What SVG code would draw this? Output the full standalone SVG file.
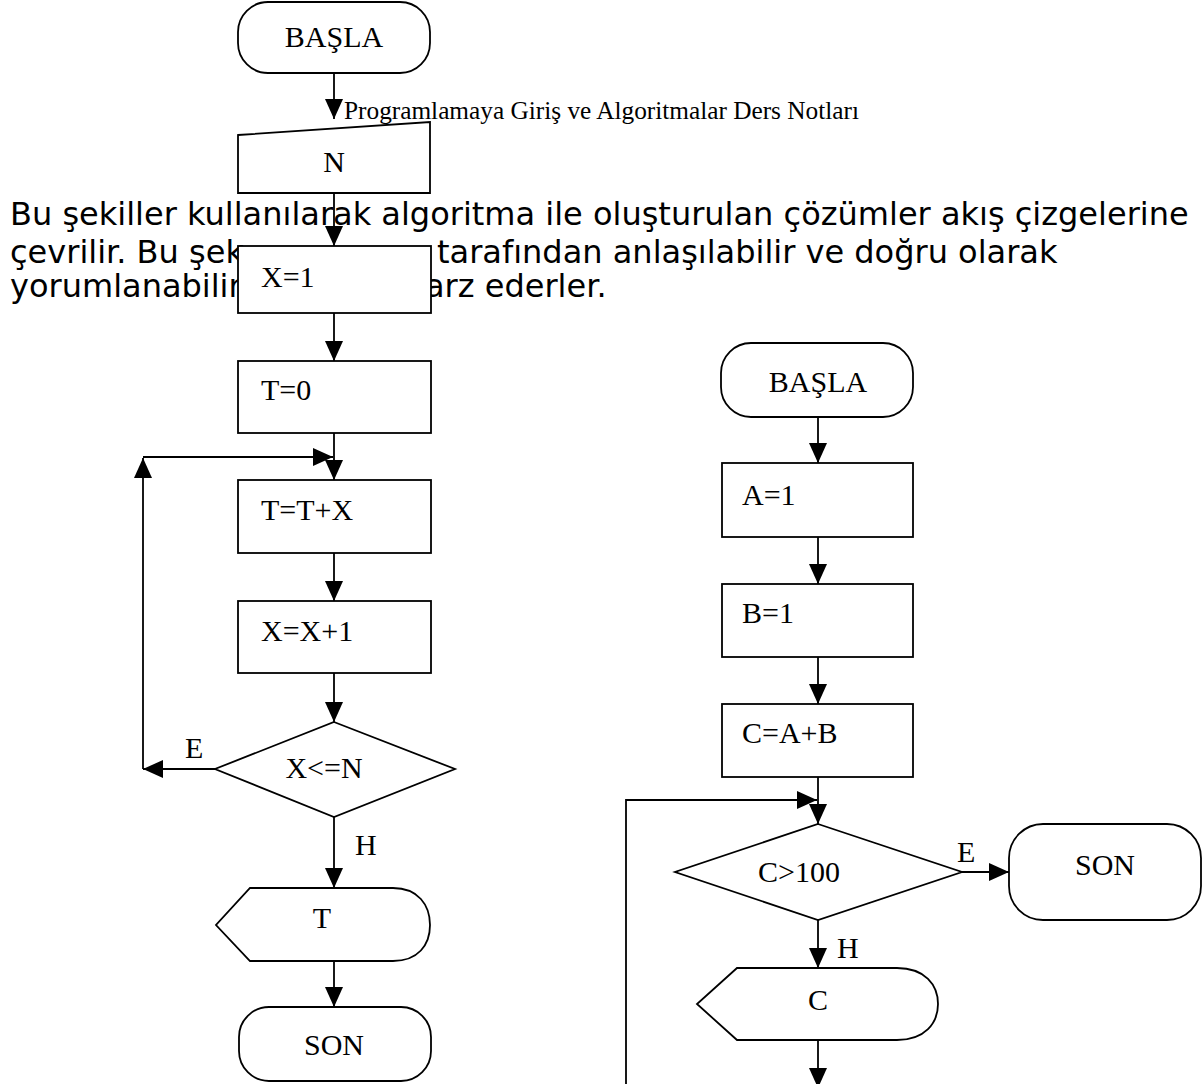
<svg xmlns="http://www.w3.org/2000/svg" width="1202" height="1084" viewBox="0 0 1202 1084">
<style>
.s{fill:#fff;stroke:#000;stroke-width:1.8}
.t{font-family:"Liberation Serif","Times New Roman",serif;font-size:30px;fill:#000}
.c{text-anchor:middle}
.b{font-family:"DejaVu Sans",Verdana,sans-serif;font-size:32px;fill:#000}
.h{font-family:"Liberation Serif","Times New Roman",serif;font-size:25.3px;fill:#000}
.ln{stroke:#000;stroke-width:1.8;fill:none}
</style>
<defs>
<marker id="ah" markerUnits="userSpaceOnUse" markerWidth="20" markerHeight="18" refX="20" refY="9" orient="auto">
<path d="M0,0 L20,9 L0,18 Z" fill="#000"/>
</marker>
</defs>
<g id="bodytext">
<text class="b" x="10" y="225">Bu şekiller kullanılarak algoritma ile oluşturulan çözümler akış çizgelerine</text>
<text class="b" x="10" y="263">çevrilir. Bu şek</text>
<text class="b" x="437" y="263">tarafından anlaşılabilir ve doğru olarak</text>
<text class="b" x="10" y="297">yorumlanabilir</text>
<text class="b" x="425" y="297">arz ederler.</text>
</g>
<text id="header" class="h" x="344" y="119">Programlamaya Giriş ve Algoritmalar Ders Notları</text>
<g id="connectors">
<line class="ln" x1="334" y1="72" x2="334" y2="119" marker-end="url(#ah)"/>
<line class="ln" x1="334" y1="193" x2="334" y2="246" marker-end="url(#ah)"/>
<line class="ln" x1="334" y1="313" x2="334" y2="361" marker-end="url(#ah)"/>
<line class="ln" x1="334" y1="433" x2="334" y2="480" marker-end="url(#ah)"/>
<line class="ln" x1="334" y1="553" x2="334" y2="601" marker-end="url(#ah)"/>
<line class="ln" x1="334" y1="673" x2="334" y2="722" marker-end="url(#ah)"/>
<line class="ln" x1="215" y1="769" x2="143" y2="769" marker-end="url(#ah)"/>
<line class="ln" x1="143" y1="769" x2="143" y2="458" marker-end="url(#ah)"/>
<line class="ln" x1="143" y1="457" x2="333" y2="457" marker-end="url(#ah)"/>
<line class="ln" x1="334" y1="817" x2="334" y2="888" marker-end="url(#ah)"/>
<line class="ln" x1="334" y1="961" x2="334" y2="1007" marker-end="url(#ah)"/>
<line class="ln" x1="818" y1="417" x2="818" y2="463" marker-end="url(#ah)"/>
<line class="ln" x1="818" y1="537" x2="818" y2="584" marker-end="url(#ah)"/>
<line class="ln" x1="818" y1="657" x2="818" y2="704" marker-end="url(#ah)"/>
<line class="ln" x1="818" y1="777" x2="818" y2="824" marker-end="url(#ah)"/>
<polyline class="ln" points="626,1084 626,800 817,800" marker-end="url(#ah)"/>
<line class="ln" x1="962" y1="872" x2="1009" y2="872" marker-end="url(#ah)"/>
<line class="ln" x1="818" y1="920" x2="818" y2="968" marker-end="url(#ah)"/>
<line class="ln" x1="818" y1="1040" x2="818" y2="1088" marker-end="url(#ah)"/>
<text class="t" x="185" y="758">E</text>
<text class="t" x="355" y="855">H</text>
<text class="t" x="957" y="862">E</text>
<text class="t" x="837" y="958">H</text>
</g>
<g id="n-basla1"><rect class="s" x="238" y="2" width="192" height="71" rx="30" ry="30"/><text class="t c" x="334" y="47">BAŞLA</text></g>
<g id="n-N"><polygon class="s" points="238,135 430,122 430,193 238,193"/><text class="t c" x="334" y="172">N</text></g>
<g id="n-x1"><rect class="s" x="238" y="246" width="193" height="67"/><text class="t" x="261" y="287">X=1</text></g>
<g id="n-t0"><rect class="s" x="238" y="361" width="193" height="72"/><text class="t" x="261" y="400">T=0</text></g>
<g id="n-ttx"><rect class="s" x="238" y="480" width="193" height="73"/><text class="t" x="261" y="520">T=T+X</text></g>
<g id="n-xx1"><rect class="s" x="238" y="601" width="193" height="72"/><text class="t" x="261" y="641">X=X+1</text></g>
<g id="n-d1"><polygon class="s" points="334,722 455,769 334,817 215,769"/><text class="t c" x="324" y="778">X&lt;=N</text></g>
<g id="n-outT"><path class="s" d="M250,888 H393 C418,888 430,905 430,925 C430,945 418,961 393,961 H250 L216,925 Z"/><text class="t c" x="322" y="928">T</text></g>
<g id="n-son1"><rect class="s" x="239" y="1007" width="192" height="74" rx="30" ry="30"/><text class="t c" x="334" y="1055">SON</text></g>
<g id="n-basla2"><rect class="s" x="721" y="343" width="192" height="74" rx="30" ry="30"/><text class="t c" x="818" y="392">BAŞLA</text></g>
<g id="n-a1"><rect class="s" x="722" y="463" width="191" height="74"/><text class="t" x="742" y="505">A=1</text></g>
<g id="n-b1"><rect class="s" x="722" y="584" width="191" height="73"/><text class="t" x="742" y="623">B=1</text></g>
<g id="n-cab"><rect class="s" x="722" y="704" width="191" height="73"/><text class="t" x="742" y="743">C=A+B</text></g>
<g id="n-d2"><polygon class="s" points="818,824 962,872 818,920 675,872"/><text class="t c" x="799" y="882">C&gt;100</text></g>
<g id="n-son2"><rect class="s" x="1009" y="824" width="192" height="96" rx="34" ry="34"/><text class="t c" x="1105" y="875">SON</text></g>
<g id="n-outC"><path class="s" d="M737,968 H897 C925,968 938,985 938,1004 C938,1023 925,1040 897,1040 H737 L697,1004 Z"/><text class="t c" x="818" y="1010">C</text></g>
</svg>
